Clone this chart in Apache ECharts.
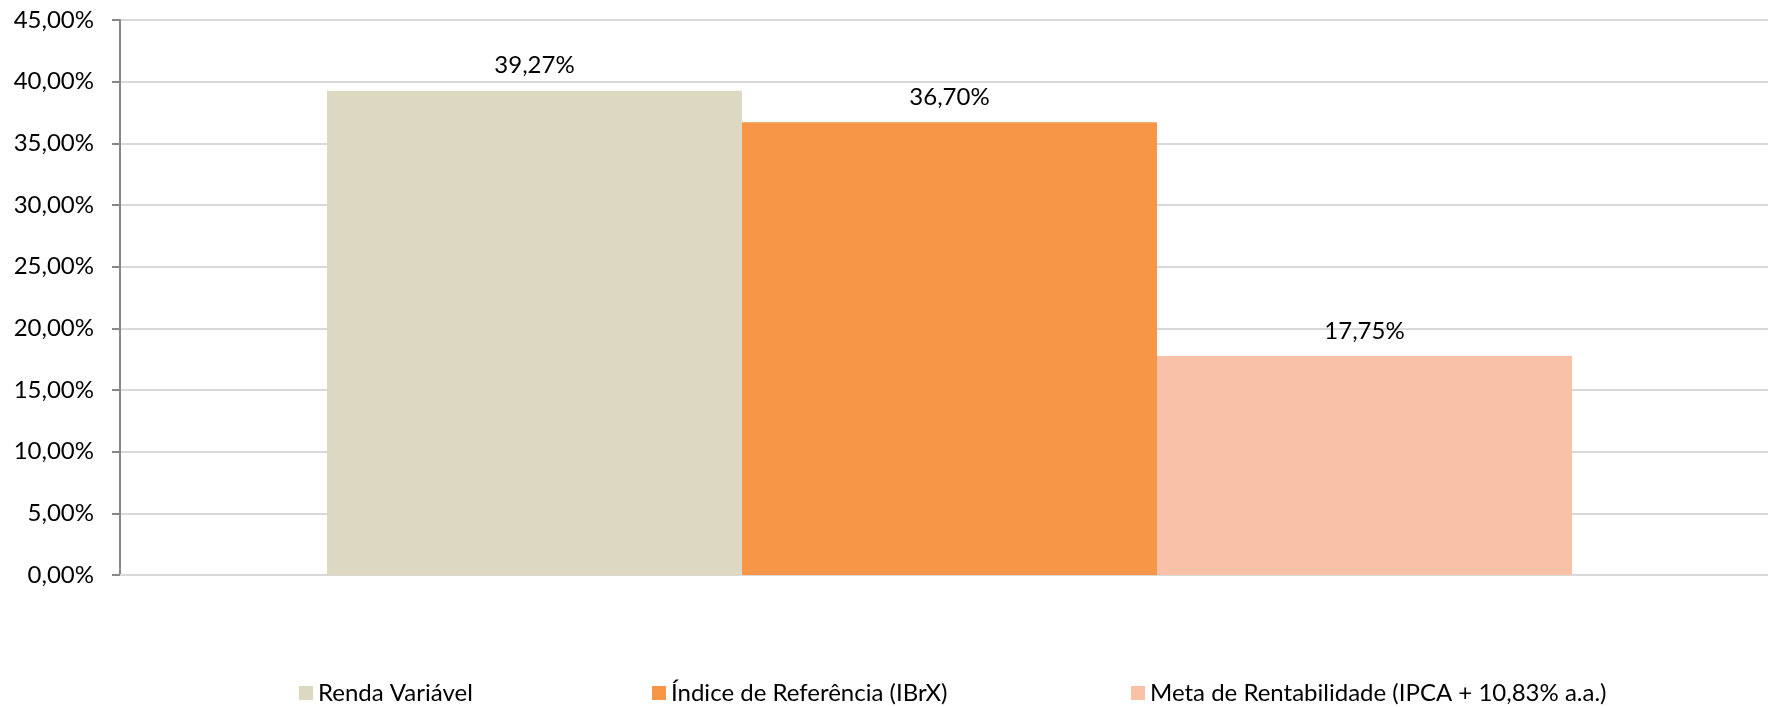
<!DOCTYPE html>
<html>
<head>
<meta charset="utf-8">
<script src="https://cdn.jsdelivr.net/npm/echarts@6/dist/echarts.min.js"></script>
<style>
  html, body { margin: 0; padding: 0; background: #fff; }
  #chart { width: 1768px; height: 707px; }
</style>
</head>
<body>
<div id="chart"></div>
<script>
// data
const categories = [''];
const seriesNames = ['Renda Variável', 'Índice de Referência (IBrX)', 'Meta de Rentabilidade (IPCA + 10,83% a.a.)'];
const rendaVariavel = [39.27];
const indiceReferencia = [36.70];
const metaRentabilidade = [17.75];
const yTicks = [0, 45, 5]; // min, max, step

const colors = ['#DDD8C2', '#F79646', '#F9C2A8'];
const legendLeft = [294, 647, 1126];
const font = 'Lato, "Noto Sans", sans-serif';

const fmt = v => v.toFixed(2).replace('.', ',') + '%';

let chart = echarts.init(document.getElementById('chart'));

// grid 0 draws the axes and gridlines, grid 1 (a bit narrower) holds the bars
// so that the bar group sits slightly right of centre, like the original
let seriesData = [rendaVariavel, indiceReferencia, metaRentabilidade];
let series = seriesNames.map((name, i) => ({
    name: name,
    type: 'bar',
    xAxisIndex: 1,
    yAxisIndex: 1,
    data: seriesData[i],
    barWidth: 415,
    barGap: '0%',
    itemStyle: {color: colors[i]},
    label: {
        show: true,
        position: 'top',
        distance: 13,
        color: '#000',
        fontFamily: font,
        fontSize: 24,
        formatter: p => fmt(p.value)
    }
}));

let legends = seriesNames.map((name, i) => ({
    data: [name],
    left: legendLeft[i],
    top: 676,
    itemWidth: 14,
    itemHeight: 14,
    icon: 'rect',
    textStyle: {color: '#000', fontFamily: font, fontSize: 24}
}));

chart.setOption({
    animation: false,
    color: colors,
    legend: legends,
    grid: [
        {left: 120, right: 0, top: 20, bottom: 132, containLabel: false},
        {left: 131, right: 0, top: 20, bottom: 132, containLabel: false}
    ],
    xAxis: [{
        type: 'category',
        gridIndex: 0,
        data: categories,
        axisLine: {lineStyle: {color: '#D9D9D9', width: 2}},
        axisTick: {show: false},
        axisLabel: {show: false}
    }, {
        type: 'category',
        gridIndex: 1,
        data: categories,
        show: false
    }],
    yAxis: [{
        type: 'value',
        gridIndex: 0,
        min: yTicks[0],
        max: yTicks[1],
        interval: yTicks[2],
        axisLine: {show: true, lineStyle: {color: '#888', width: 2}},
        axisTick: {show: true, length: 8, lineStyle: {color: '#888', width: 2}},
        splitLine: {lineStyle: {color: '#D9D9D9', width: 2}},
        axisLabel: {
            color: '#000',
            fontFamily: font,
            fontSize: 24,
            margin: 26,
            formatter: v => fmt(v)
        }
    }, {
        type: 'value',
        gridIndex: 1,
        min: yTicks[0],
        max: yTicks[1],
        interval: yTicks[2],
        show: false,
        splitLine: {show: false}
    }],
    series: series
});
</script>
</body>
</html>
